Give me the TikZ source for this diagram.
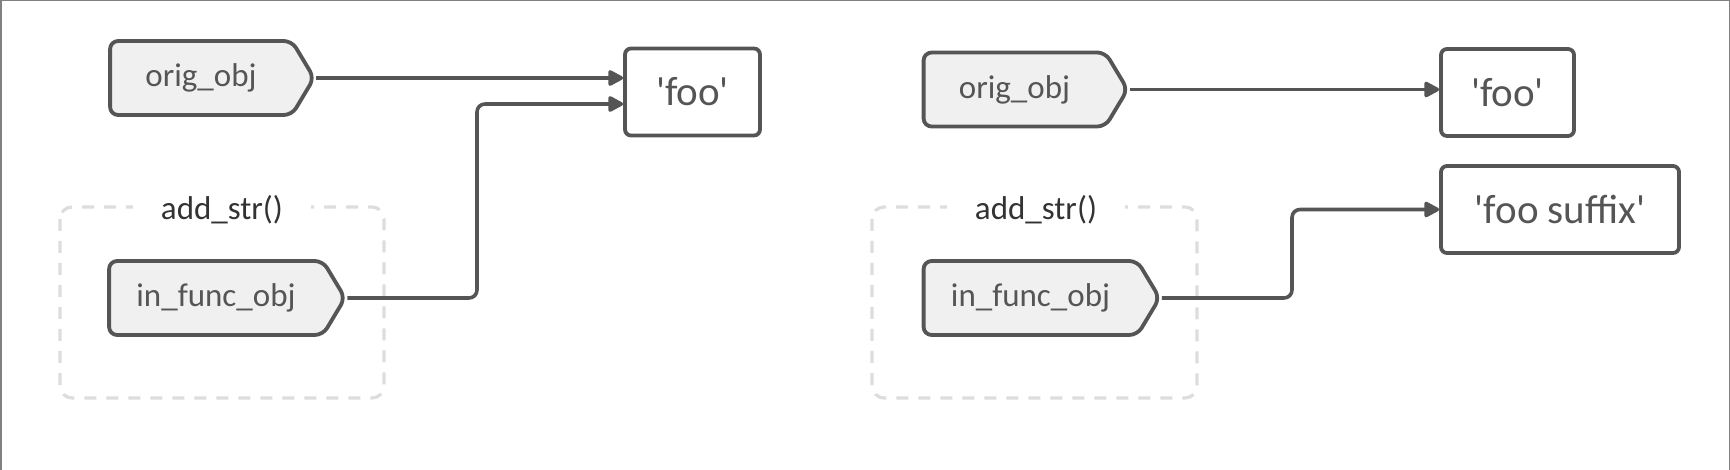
\documentclass[tikz,border=0pt]{standalone}
\usepackage{fontspec}
\setmainfont{Carlito}
\usetikzlibrary{arrows.meta,shapes.symbols}
\definecolor{inkgray}{HTML}{555555}
\definecolor{fillgray}{HTML}{F0F0F0}
\definecolor{dashgray}{HTML}{DDDDDD}
\definecolor{framegray}{HTML}{808080}
\begin{document}
\begin{tikzpicture}[x=0.5pt,y=-0.5pt,>={Triangle[length=8.5pt,width=8.5pt,round]},
  varname/.style={shape=signal,signal to=east,signal pointer angle=118,
    draw=inkgray,fill=fillgray,line width=1.9pt,rounded corners=4pt,
    text=inkgray,font=\fontsize{16.5}{18}\selectfont,inner sep=0pt,
    minimum height=37pt},
  strval/.style={draw=inkgray,line width=1.9pt,rounded corners=3pt,
    text=inkgray,font=\fontsize{20.5}{24}\selectfont,inner sep=0pt,
    minimum height=43.5pt},
  funcbox/.style={draw=dashgray,line width=1.6pt,dash pattern=on 6pt off 5pt,
    rounded corners=6pt},
  funclabel/.style={fill=white,text=black!80,font=\fontsize{16.5}{18}\selectfont,
    inner xsep=14pt,inner ysep=2pt},
  ref/.style={->,draw=inkgray,line width=1.8pt,rounded corners=4pt}]
\useasboundingbox (0,0) rectangle (1730,470);
\draw[framegray,line width=0.75pt] (0.75,470) -- (0.75,0.75) -- (1729.25,0.75) -- (1729.25,470);
% before the call
\draw[funcbox] (60,207) rectangle (384,398);
\node[funclabel] (fn1) at (222,210) {add\_str()};
\node[varname,minimum width=102pt] (orig1) at (201,78) {orig\_obj};
\node[varname,minimum width=118pt] (infunc1) at (216,298) {in\_func\_obj};
\node[strval,minimum width=67.5pt] (foo1) at (692.5,92) {\textquotesingle foo\textquotesingle};
\coordinate (bend1) at (477,104);
\draw[ref] (orig1.east) -- (orig1.east -| foo1.west);
\draw[ref] (infunc1.east) -| (bend1) -- (bend1 -| foo1.west);
% after the call
\draw[funcbox] (872,207) rectangle (1197,398);
\node[funclabel] (fn2) at (1036,210) {add\_str()};
\node[varname,minimum width=102pt] (orig2) at (1014.5,89.5) {orig\_obj};
\node[varname,minimum width=118pt] (infunc2) at (1030.5,298) {in\_func\_obj};
\node[strval,minimum width=66.5pt] (foo2) at (1507.5,92.5) {\textquotesingle foo\textquotesingle};
\node[strval,minimum width=119pt] (foosuf) at (1560,209.5) {\textquotesingle foo suffix\textquotesingle};
\coordinate (bend2) at (1292,209.5);
\draw[ref] (orig2.east) -- (orig2.east -| foo2.west);
\draw[ref] (infunc2.east) -| (bend2) -- (foosuf.west);
\end{tikzpicture}
\end{document}
